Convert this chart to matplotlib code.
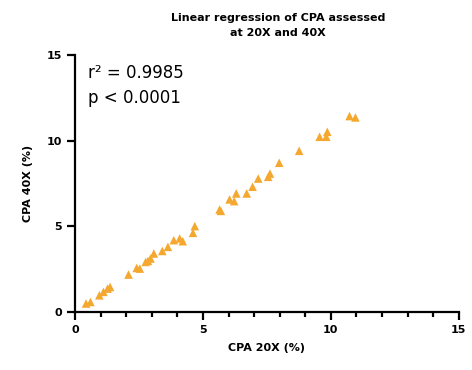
import numpy as np
import matplotlib
matplotlib.use("Agg")
import matplotlib.pyplot as plt
from matplotlib.ticker import MultipleLocator

# CPA values (20X vs 40X)
cpa_20x = [0.43, 0.60, 0.95, 1.11, 1.27, 1.37, 2.09, 2.41, 2.53, 2.76, 2.85, 2.95,
           3.08, 3.41, 3.63, 3.86, 4.09, 4.21, 4.61, 4.68, 5.65, 5.70, 6.04, 6.22,
           6.30, 6.71, 6.94, 7.16, 7.55, 7.62, 7.98, 8.76, 9.56, 9.82, 9.86, 10.73, 10.96]
cpa_40x = [0.49, 0.58, 0.97, 1.17, 1.36, 1.46, 2.18, 2.57, 2.53, 2.92, 2.98, 3.12,
           3.41, 3.56, 3.80, 4.19, 4.29, 4.13, 4.62, 5.01, 5.98, 5.90, 6.57, 6.47,
           6.92, 6.92, 7.31, 7.79, 7.89, 8.08, 8.71, 9.41, 10.23, 10.23, 10.52, 11.44, 11.36]

fig = plt.figure(figsize=(4.72, 3.70), dpi=100)
ax = fig.add_axes([0.159, 0.157, 0.813, 0.694])

ax.scatter(cpa_20x, cpa_40x, marker="^", s=38, color="#F5A830", edgecolors="none", zorder=3)

ax.set_xlim(0, 15)
ax.set_ylim(0, 15)
ax.xaxis.set_major_locator(MultipleLocator(5))
ax.xaxis.set_minor_locator(MultipleLocator(1))
ax.yaxis.set_major_locator(MultipleLocator(5))

for s in ["top", "right"]:
    ax.spines[s].set_visible(False)
for s in ["left", "bottom"]:
    ax.spines[s].set_linewidth(1.6)

ax.tick_params(which="major", direction="out", length=6, width=1.6, labelsize=8)
ax.tick_params(which="minor", direction="out", length=3.5, width=1.6)
for lab in ax.get_xticklabels() + ax.get_yticklabels():
    lab.set_fontweight("bold")

ax.set_xlabel("CPA 20X (%)", fontsize=8, fontweight="bold", labelpad=6)
ax.set_ylabel("CPA 40X (%)", fontsize=8, fontweight="bold", labelpad=10)
fig.text(0.589, 0.965, "Linear regression of CPA assessed\nat 20X and 40X", fontsize=8,
         fontweight="bold", ha="center", va="top", linespacing=1.6)

ax.text(0.035, 0.965, "r\u00b2 = 0.9985\np < 0.0001", transform=ax.transAxes,
        fontsize=12, va="top", ha="left", linespacing=1.5)

fig.savefig("out.png", dpi=100)
